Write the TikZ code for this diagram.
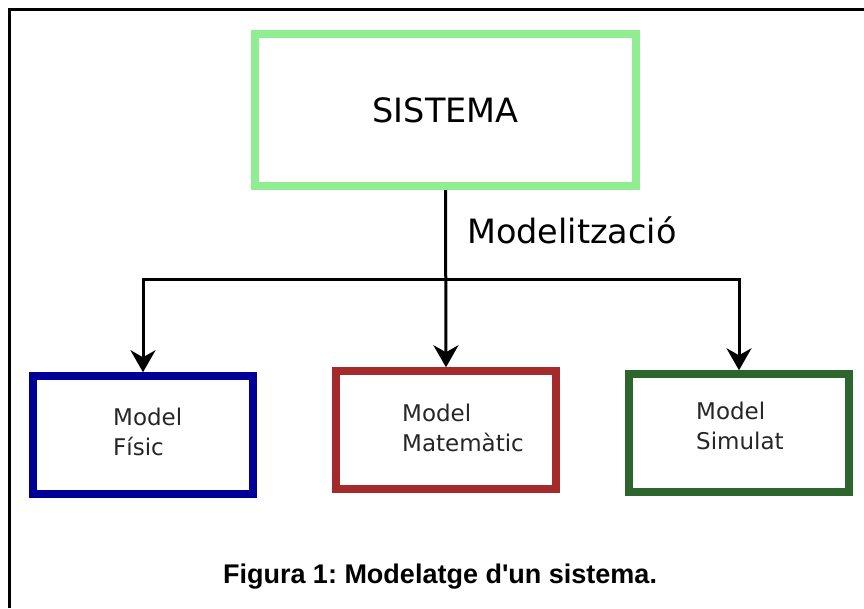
\documentclass[tikz,border=0pt]{standalone}
\usepackage{fontspec}
\setmainfont{DejaVu Sans}
\newfontfamily\captionfont{Liberation Sans}
\usepackage{tikz}
\usetikzlibrary{arrows.meta, positioning}
\definecolor{sysgreen}{HTML}{90EE90}
\definecolor{fisblue}{HTML}{000099}
\definecolor{matred}{HTML}{A52A2A}
\definecolor{simgreen}{HTML}{2D662D}
\tikzset{modelbox/.style={draw=#1, line width=7.5pt, minimum width=220pt, minimum height=118pt}}
\tikzset{modeltext/.style={font=\fontsize{23}{30}\selectfont, align=left, text=black!85, anchor=west, inner sep=0pt}}
\tikzset{link/.style={line width=3pt, -{Stealth[length=22pt, width=25pt, inset=7pt]}}}
\frenchspacing

\begin{document}
\begin{tikzpicture}[x=1pt, y=-1pt]
\useasboundingbox (0,0) rectangle (864,608);
\draw[line width=3pt] (9.5,608) -- (9.5,9.5) -- (864,9.5);
\node[draw=sysgreen, line width=8pt, minimum width=381pt, minimum height=152pt, font=\fontsize{33.5}{40}\selectfont] (sistema) at (445.5,110) {SISTEMA};
\node[anchor=base west, inner sep=0pt, font=\fontsize{33.5}{40}\selectfont] (modelitzacio) at (467,243) {Modelització};
\node[modelbox=fisblue] (fisic) at (143,435) {};
\node[modelbox=matred] (matematic) at (446,430) {};
\node[modelbox=simgreen] (simulat) at (739,433) {};
\node[modeltext] (fisic-txt) at (113,432) {Model\\Físic};
\node[modeltext] (matematic-txt) at (402,428) {Model\\Matemàtic};
\node[modeltext] (simulat-txt) at (696,426) {Model\\Simulat};
\coordinate (bus) at (445.5,279);
\draw[link] (sistema.south) -- (matematic.north);
\draw[link] (bus) -| (fisic.north);
\draw[link] (bus) -| (simulat.north);
\node[anchor=base, inner sep=0pt, font=\captionfont\bfseries\fontsize{27}{32}\selectfont] (caption) at (440,583) {Figura 1: Modelatge d'un sistema.};
\end{tikzpicture}
\end{document}
